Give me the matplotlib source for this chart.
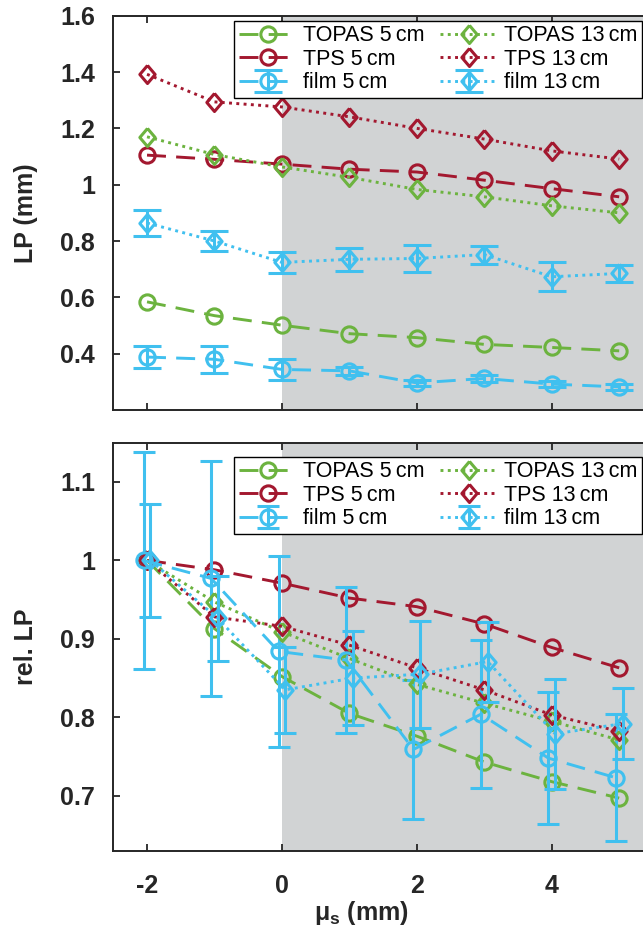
import numpy as np
import matplotlib
matplotlib.use('Agg')
import matplotlib.pyplot as plt
from matplotlib.ticker import FuncFormatter

# shift position (mm)
x = np.array([-2, -1, 0, 1, 2, 3, 4, 5])

# absolute LP (mm)
topas5 = [0.584, 0.535, 0.501, 0.471, 0.457, 0.433, 0.422, 0.410]
tps5 = [1.105, 1.090, 1.073, 1.055, 1.045, 1.016, 0.986, 0.957]
film5 = [0.388, 0.380, 0.344, 0.339, 0.296, 0.312, 0.292, 0.282]
film5_err = [0.040, 0.047, 0.036, 0.015, 0.010, 0.012, 0.010, 0.010]
topas13 = [1.170, 1.107, 1.063, 1.026, 0.983, 0.957, 0.925, 0.900]
tps13 = [1.392, 1.294, 1.276, 1.241, 1.200, 1.162, 1.120, 1.091]
film13 = [0.864, 0.800, 0.724, 0.735, 0.738, 0.752, 0.673, 0.685]
film13_err = [0.045, 0.035, 0.036, 0.040, 0.049, 0.032, 0.051, 0.030]

# relative LP
rtopas5 = [1.0, 0.913, 0.852, 0.805, 0.776, 0.743, 0.718, 0.697]
rtps5 = [1.0, 0.988, 0.971, 0.952, 0.941, 0.919, 0.889, 0.863]
rfilm5 = [1.0, 0.977, 0.884, 0.873, 0.759, 0.804, 0.748, 0.723]
rfilm5_err = [0.138, 0.150, 0.122, 0.093, 0.089, 0.094, 0.084, 0.081]
rtopas13 = [1.0, 0.947, 0.909, 0.875, 0.842, 0.818, 0.795, 0.771]
rtps13 = [1.0, 0.928, 0.916, 0.892, 0.863, 0.835, 0.803, 0.782]
rfilm13 = [1.0, 0.926, 0.835, 0.850, 0.855, 0.871, 0.779, 0.792]
rfilm13_err = [0.072, 0.054, 0.055, 0.060, 0.068, 0.051, 0.070, 0.045]

labels = ['TOPAS 5\u2009cm', 'TPS 5\u2009cm', 'film 5\u2009cm',
          'TOPAS 13\u2009cm', 'TPS 13\u2009cm', 'film 13\u2009cm']

green = '#6cb33f'
red = '#a3182f'
blue = '#40c0ef'
gray = '#d1d3d4'
dark = '#262626'

plt.rcParams['font.family'] = ['Liberation Sans', 'DejaVu Sans']
plt.rcParams['axes.unicode_minus'] = False

dash = (0, (6.5, 3.5))
dot = (0, (1, 1.5))
lw = 2.1
mew = 2.2
diamond = [(0, 1), (0.85, 0), (0, -1), (-0.85, 0), (0, 1)]
ms_o = 11
ms_d = 13


def draw(ax, x5, x13, a5, b5, f5, e5, a13, b13, f13, e13, capsize):
    ax.axvspan(0, 6, color=gray, lw=0, zorder=0)
    h = []
    h += ax.plot(x, a5, ls=dash, color=green, lw=lw, marker='o', ms=ms_o,
                 mfc='none', mew=mew)
    h += ax.plot(x, b5, ls=dash, color=red, lw=lw, marker='o', ms=ms_o,
                 mfc='none', mew=mew)
    h.append(ax.errorbar(x5, f5, yerr=e5, ls=dash, color=blue, lw=lw,
                         marker='o', ms=ms_o, mfc='none', mew=mew,
                         elinewidth=2.2, capsize=capsize, capthick=2.2))
    h += ax.plot(x, a13, ls=dot, color=green, lw=lw, marker=diamond,
                 ms=ms_d, mfc='none', mew=mew)
    h += ax.plot(x, b13, ls=dot, color=red, lw=lw, marker=diamond,
                 ms=ms_d, mfc='none', mew=mew)
    h.append(ax.errorbar(x13, f13, yerr=e13, ls=dot, color=blue, lw=lw,
                         marker=diamond, ms=ms_d, mfc='none', mew=mew,
                         elinewidth=2.2, capsize=capsize, capthick=2.2))
    ax.set_xlim(-2.5, 5.5)
    ax.set_xticks([-2, 0, 2, 4])
    ax.tick_params(direction='in', top=True, right=False, length=5,
                   width=1.3, colors=dark, labelsize=18)
    ax.tick_params(axis='x', pad=17)
    ax.tick_params(axis='y', pad=13)
    ax.yaxis.set_major_formatter(FuncFormatter(lambda v, p: '%g' % v))
    ax.spines['right'].set_visible(False)
    for s in ['left', 'top', 'bottom']:
        ax.spines[s].set_linewidth(1.4)
        ax.spines[s].set_color(dark)
    for t in ax.get_xticklabels() + ax.get_yticklabels():
        t.set_fontweight('bold')
    return h


fig = plt.figure(figsize=(6.43, 9.31), dpi=100)
ax1 = fig.add_axes([113.3 / 643, 1 - 410 / 931, 539.6 / 643, 394.3 / 931])
ax2 = fig.add_axes([113.3 / 643, 1 - 850.7 / 931, 539.6 / 643, 408 / 931])

ax1.set_ylim(0.2, 1.6)
ax1.set_yticks([0.4, 0.6, 0.8, 1.0, 1.2, 1.4, 1.6])
h1 = draw(ax1, x, x, topas5, tps5, film5, film5_err,
          topas13, tps13, film13, film13_err, 10)
ax1.tick_params(labelbottom=False)

ax2.set_ylim(0.63, 1.15)
ax2.set_yticks([0.7, 0.8, 0.9, 1.0, 1.1])
h2 = draw(ax2, x - 0.05, x + 0.05, rtopas5, rtps5, rfilm5, rfilm5_err,
          rtopas13, rtps13, rfilm13, rfilm13_err, 8)

for ax, h, top in [(ax1, h1, 21), (ax2, h2, 457)]:
    leg = ax.legend(h, labels, loc='upper right', ncol=2,
                    bbox_to_anchor=(642 / 643, 1 - top / 931),
                    bbox_transform=fig.transFigure, fontsize=15.5,
                    frameon=True, fancybox=False, edgecolor='black',
                    framealpha=1, borderaxespad=0, handlelength=2.7,
                    handletextpad=0.3, columnspacing=0.7, labelspacing=0.12,
                    borderpad=0.2)
    leg.get_frame().set_linewidth(1.0)

ax1.set_ylabel('LP (mm)', fontsize=18, fontweight='bold', color=dark)
ax2.set_ylabel('rel. LP', fontsize=18, fontweight='bold', color=dark)
ax1.yaxis.set_label_coords(-0.139, 0.5)
ax2.yaxis.set_label_coords(-0.139, 0.5)
ax2.set_xlabel('μ$_\\mathregular{s}$ (mm)', fontsize=18, fontweight='bold',
               color=dark)
ax2.xaxis.set_label_coords(0.459, -0.118)

plt.savefig('out.png', dpi=100)
